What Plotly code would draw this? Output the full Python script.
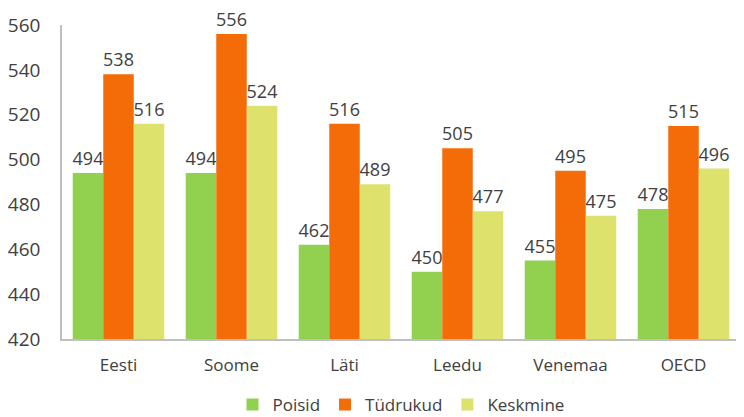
import plotly.graph_objects as go

categories = ["Eesti", "Soome", "Läti", "Leedu", "Venemaa", "OECD"]
poisid = [494, 494, 462, 450, 455, 478]
tudrukud = [538, 556, 516, 505, 495, 515]
keskmine = [516, 524, 489, 477, 475, 496]
y_ticks = [420, 440, 460, 480, 500, 520, 540, 560]

series = [
    ("Poisid", poisid, "#92D050"),
    ("Tüdrukud", tudrukud, "#F46C08"),
    ("Keskmine", keskmine, "#DCE26C"),
]

fig = go.Figure()
for name, vals, color in series:
    fig.add_trace(go.Bar(
        x=categories, y=vals, name=name,
        marker=dict(color=color, line=dict(width=0)),
        text=[str(v) for v in vals], textposition="outside",
        textfont=dict(size=18, color="#404040"),
        cliponaxis=False, constraintext="none",
    ))

fig.update_layout(
    width=736, height=409,
    barmode="group", bargap=0.19, bargroupgap=0,
    plot_bgcolor="white", paper_bgcolor="white",
    font=dict(family="Open Sans, Liberation Sans, sans-serif", color="#404040", size=17),
    margin=dict(l=54, r=4, t=17, b=78, autoexpand=False),
    xaxis=dict(showline=True, linecolor="#BFBFBF", linewidth=1.5, ticks="",
               tickfont=dict(size=17, color="#404040"), showgrid=False,
               automargin=False, ticklabelstandoff=10),
    yaxis=dict(range=[420, 560], tickvals=y_ticks, showgrid=False, zeroline=False,
               showline=True, linecolor="#BFBFBF", linewidth=1.5, ticks="",
               tickfont=dict(size=19, color="#404040"), ticklabelstandoff=16,
               automargin=False),
    legend=dict(orientation="h", x=0.5, xanchor="center", y=-0.21, yanchor="middle",
                font=dict(size=17, color="#404040"), itemwidth=30,
                tracegroupgap=0),
)

fig.write_html("out.html")
